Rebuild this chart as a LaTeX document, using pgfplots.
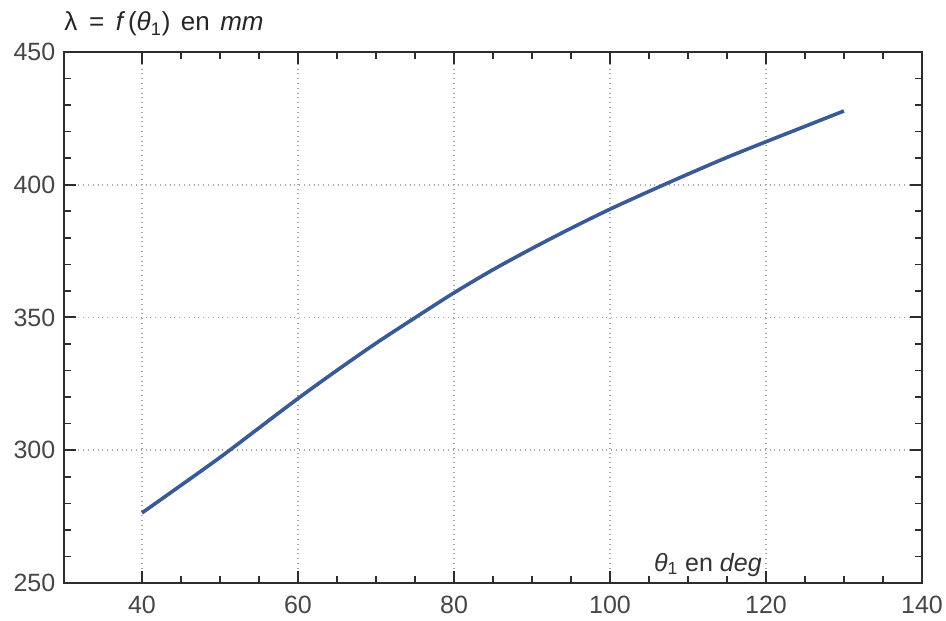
\documentclass[border=0pt]{standalone}
\usepackage{fontspec}
\setmainfont{Liberation Sans}
\usepackage{pgfplots}
\pgfplotsset{compat=1.18}
\definecolor{curve}{RGB}{58,90,150}
\definecolor{frame}{RGB}{45,45,45}
\definecolor{ticklab}{RGB}{70,70,70}
\begin{document}
\fontsize{12.5pt}{15pt}\selectfont
\begin{tikzpicture}
\begin{axis}[
  scale only axis,
  width=429pt, height=265.5pt,
  xmin=30, xmax=140, ymin=250, ymax=450,
  xtick={40,60,80,100,120,140},
  ytick={250,300,350,400,450},
  minor x tick num=3,
  minor y tick num=4,
  tick pos=both,
  ticklabel pos=left,
  tick align=inside,
  major tick length=6pt,
  minor tick length=3.5pt,
  axis line style={frame, line width=1pt},
  every tick/.style={frame, line width=1pt},
  every minor tick/.style={frame, line width=0.8pt},
  grid=major,
  major grid style={gray!70, dotted, line width=0.8pt},
  tick label style={color=ticklab, font=\fontsize{12.5pt}{15pt}\selectfont},
  /pgf/number format/assume math mode=true,
  /pgf/number format/1000 sep={},
  xticklabel style={yshift=-2pt},
  clip=false,
]
\addplot[curve, line width=1.8pt, smooth] coordinates {
(40,276.4) (45,286.8) (50,297.3) (55,308.4) (60,319.5) (65,330.1) (70,340.3)
(75,349.9) (80,359.3) (85,368.0) (90,376.0) (95,383.6) (100,390.8)
(105,397.5) (110,404.0) (115,410.3) (120,416.2) (125,422.0) (130,427.8)
};
\node[anchor=base east, color=black!80, inner sep=0pt] at (axis cs:119.5,254.5)
  {\textit{θ}\textsubscript{1} en \textit{deg}};
\node[anchor=base west, color=black!85, inner sep=0pt] at ([yshift=10.5pt]rel axis cs:0,1)
  {\fontsize{13pt}{16pt}\selectfont λ\hspace{0.45em}=\hspace{0.45em}\textit{f}\hspace{0.1em}(\textit{θ}\textsubscript{1})\hspace{0.4em}en\hspace{0.4em}\textit{mm}};
\coordinate (SW) at (rel axis cs:0,0);
\coordinate (NE) at (rel axis cs:1,1);
\end{axis}
\pgfresetboundingbox
\useasboundingbox ([shift={(-32pt,-18.5pt)}]SW) rectangle ([shift={(12pt,26pt)}]NE);
\end{tikzpicture}
\end{document}
